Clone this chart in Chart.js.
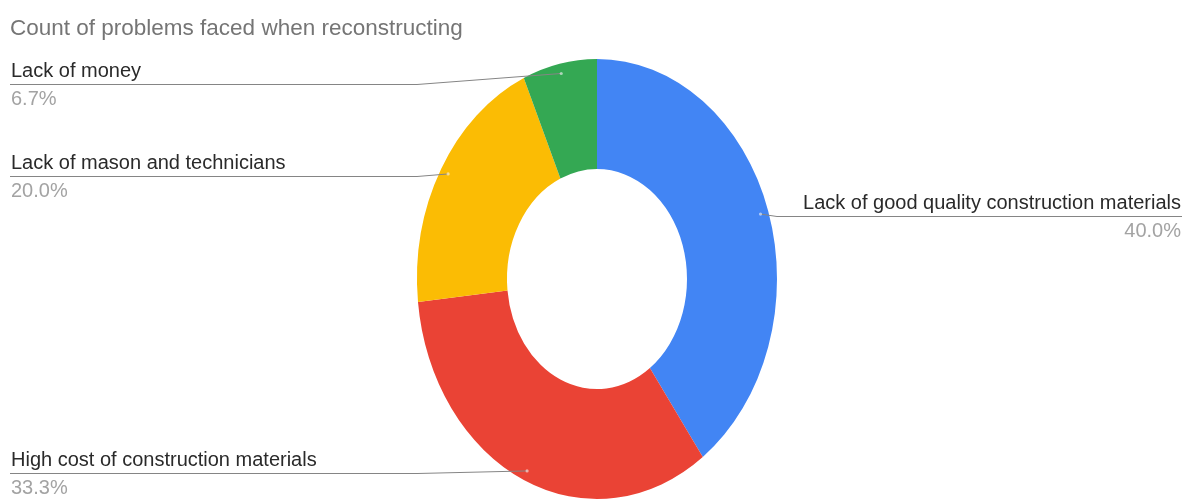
<!DOCTYPE html>
<html>
<head>
<meta charset="utf-8">
<script src="https://cdn.jsdelivr.net/npm/chart.js@4.4.1/dist/chart.umd.min.js"></script>
<style>
  html, body { margin: 0; padding: 0; background: #ffffff; overflow: hidden; }
  #wrap { width: 1188px; height: 504px; position: relative; }
</style>
</head>
<body>
<div id="wrap"><canvas id="chart" width="1188" height="504"></canvas></div>
<script>
// Problems reported during reconstruction (number of responses)
const chartTitle = 'Count of problems faced when reconstructing';
const categories = [
  'Lack of good quality construction materials',
  'High cost of construction materials',
  'Lack of mason and technicians',
  'Lack of money'
];
const counts = [6, 5, 3, 1];
const sliceColors = ['#4285F4', '#EA4335', '#FBBC04', '#34A853'];

// the ring is drawn taller than wide
const STRETCH_Y = 220 / 180;
const FONT = '"Liberation Sans", Arial, Helvetica, sans-serif';

const ellipsePlugin = {
  id: 'ellipse',
  beforeDatasetsDraw(chart) {
    const arc = chart.getDatasetMeta(0).data[0];
    const ctx = chart.ctx;
    ctx.save();
    ctx.translate(arc.x, arc.y);
    ctx.scale(1, STRETCH_Y);
    ctx.translate(-arc.x, -arc.y);
  },
  afterDatasetsDraw(chart) {
    chart.ctx.restore();
  }
};

const calloutPlugin = {
  id: 'callouts',
  afterDraw(chart) {
    const ctx = chart.ctx;
    const meta = chart.getDatasetMeta(0);
    const total = counts.reduce((a, b) => a + b, 0);
    const W = chart.width;

    ctx.save();
    ctx.font = '22.5px ' + FONT;
    ctx.fillStyle = '#757575';
    ctx.textBaseline = 'alphabetic';
    ctx.textAlign = 'left';
    ctx.fillText(chartTitle, 10, 35);

    meta.data.forEach((arc, i) => {
      const p = arc.getProps(['x', 'y', 'startAngle', 'endAngle', 'outerRadius'], true);
      const mid = (p.startAngle + p.endAngle) / 2;
      const r = p.outerRadius * 0.955;
      const ax = p.x + Math.cos(mid) * r;
      const ay = p.y + Math.sin(mid) * r * STRETCH_Y;
      const onLeft = ax < p.x;
      const lineY = Math.round(Math.max(ay + 2, 84)) + 0.5;
      const edgeX = onLeft ? p.x - p.outerRadius : p.x + p.outerRadius;
      const textX = onLeft ? 11 : W - 7;

      // leader line
      ctx.strokeStyle = '#858585';
      ctx.lineWidth = 1;
      ctx.beginPath();
      if (onLeft) {
        ctx.moveTo(10, lineY);
        ctx.lineTo(Math.min(edgeX, ax), lineY);
      } else {
        ctx.moveTo(W - 6, lineY);
        ctx.lineTo(Math.max(edgeX, ax), lineY);
      }
      ctx.lineTo(ax, ay);
      ctx.stroke();

      // anchor dot
      ctx.fillStyle = 'rgba(255,255,255,0.55)';
      ctx.beginPath();
      ctx.arc(ax, ay, 1.6, 0, Math.PI * 2);
      ctx.fill();

      // category and share
      ctx.textAlign = onLeft ? 'left' : 'right';
      ctx.font = '20px ' + FONT;
      ctx.fillStyle = '#2a2a2a';
      ctx.fillText(categories[i], textX, lineY - 8);
      ctx.fillStyle = '#a3a3a3';
      ctx.fillText((counts[i] / total * 100).toFixed(1) + '%', textX, lineY + 20);
    });
    ctx.restore();
  }
};

new Chart(document.getElementById('chart'), {
  type: 'doughnut',
  data: {
    labels: categories,
    datasets: [{
      data: counts,
      backgroundColor: sliceColors,
      borderWidth: 0,
      clip: false
    }]
  },
  options: {
    responsive: false,
    animation: false,
    events: [],
    cutout: '50%',
    layout: { padding: { left: 417, right: 411, top: 99, bottom: 45 } },
    plugins: {
      legend: { display: false },
      tooltip: { enabled: false },
      title: { display: false }
    }
  },
  plugins: [ellipsePlugin, calloutPlugin]
});
</script>
</body>
</html>
